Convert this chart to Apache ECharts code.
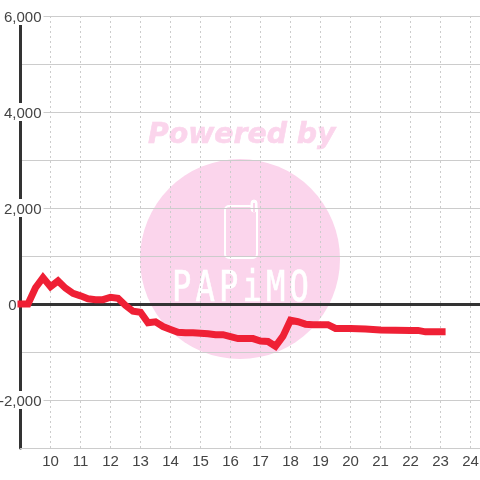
<!DOCTYPE html>
<html><head><meta charset="utf-8">
<style>html,body{margin:0;padding:0;background:#fff}#c{width:480px;height:480px}</style>
<script src="https://cdn.jsdelivr.net/npm/echarts@6/dist/echarts.min.js"></script>
</head><body><div id="c"></div>
<script>
const hours = [8.9,9.25,9.5,9.75,10,10.25,10.5,10.75,11,11.25,11.5,11.75,12,12.25,12.5,12.75,13,13.25,13.5,13.75,14,14.25,14.5,14.75,15,15.25,15.5,15.75,16,16.25,16.5,16.75,17,17.25,17.5,17.75,18,18.25,18.5,18.75,19,19.25,19.5,19.75,20,20.5,21,21.5,22,22.25,22.5,22.75,23,23.17];
const values = [0,0,340,550,360,480,330,220,170,110,90,90,140,120,-30,-150,-170,-390,-370,-470,-530,-590,-600,-600,-610,-620,-640,-640,-680,-720,-720,-720,-770,-780,-880,-670,-340,-370,-420,-430,-430,-430,-510,-510,-510,-520,-540,-545,-550,-550,-580,-580,-580,-580];
const xTickStep = 1, yTickStep = 1000, yLabelStep = 2000;
const logoLetters = ['P','A','P','i','M','O'];
const data = hours.map((h,i)=>[h,values[i]]);
const labelColor = '#444';
const chart = echarts.init(document.getElementById('c'), null, {renderer:'canvas'});
chart.setOption({
  animation:false,
  backgroundColor:'#fff',
  grid:{left:20.5,right:0,top:16,height:432,containLabel:false,outerBoundsMode:'none'},
  xAxis:[{
    type:'value',min:9,max:24.317,interval:xTickStep,position:'bottom',
    axisLine:{onZero:false,show:true,lineStyle:{color:'#ccc',width:1}},
    axisTick:{show:false},
    axisLabel:{color:labelColor,fontSize:15,fontFamily:'Liberation Sans',margin:6,showMinLabel:false,showMaxLabel:false},
    splitLine:{show:true,lineStyle:{color:'#ccc',type:[2,3],width:1}}
  },{
    type:'value',min:9,max:24.317,interval:xTickStep,position:'bottom',
    axisLine:{onZero:true,show:true,lineStyle:{color:'#333',width:3}},
    axisTick:{show:false},axisLabel:{show:false},splitLine:{show:false}
  }],
  yAxis:{
    type:'value',min:-3000,max:6000,interval:yTickStep,position:'left',
    axisLine:{show:true,onZero:false,lineStyle:{color:'#333',width:3}},
    axisTick:{show:false},
    axisLabel:{
      margin:-23,align:'right',
      formatter:v=>{
        if(v===0) return '{z|0}';
        if(v%yLabelStep!==0) return '';
        return '{a|'+v.toLocaleString('en-US')+'}';
      },
      rich:{
        a:{color:labelColor,fontSize:15,fontFamily:'Liberation Sans',backgroundColor:'#fff',padding:[3,2,0,1],lineHeight:16},
        z:{color:labelColor,fontSize:15,fontFamily:'Liberation Sans',padding:[3,27,0,0],lineHeight:16}
      }
    },
    splitLine:{show:true,lineStyle:{color:'#ccc',width:1}}
  },
  graphic:[
    {type:'circle',z:-10,silent:true,shape:{cx:240,cy:259,r:100},style:{fill:'#fbd5ec'}},
    {type:'text',z:-10,silent:true,x:148,y:122,style:{text:'Powered by',fill:'#fbd5ec',stroke:'#fbd5ec',lineWidth:0.6,font:'italic bold 28.3px "DejaVu Sans"'}},
    {type:'rect',z:-9,silent:true,shape:{x:225,y:206,width:32,height:52,r:4},style:{fill:'none',stroke:'#fff',lineWidth:2}},
    {type:'rect',z:-9,silent:true,shape:{x:251,y:200,width:6,height:12,r:3},style:{fill:'#fff',stroke:'#fff',lineWidth:1}},
    {type:'rect',z:-9,silent:true,shape:{x:253,y:203,width:2,height:9},style:{fill:'#fbd5ec'}}
  ].concat(logoLetters.map((t,i)=>({type:'text',z:-9,silent:true,x:172+i*23.5,y:268,scaleX:1.15,scaleY:1.55,style:{text:t,fill:'#fff',stroke:'#fff',lineWidth:0.4,font:'28px "DejaVu Sans Mono"'}}))),
  series:[{
    type:'line',data:data,showSymbol:false,symbol:'none',clip:false,smooth:false,
    lineStyle:{color:'#ef2035',width:7,cap:'butt',join:'miter'},z:5
  }]
});
</script></body></html>
